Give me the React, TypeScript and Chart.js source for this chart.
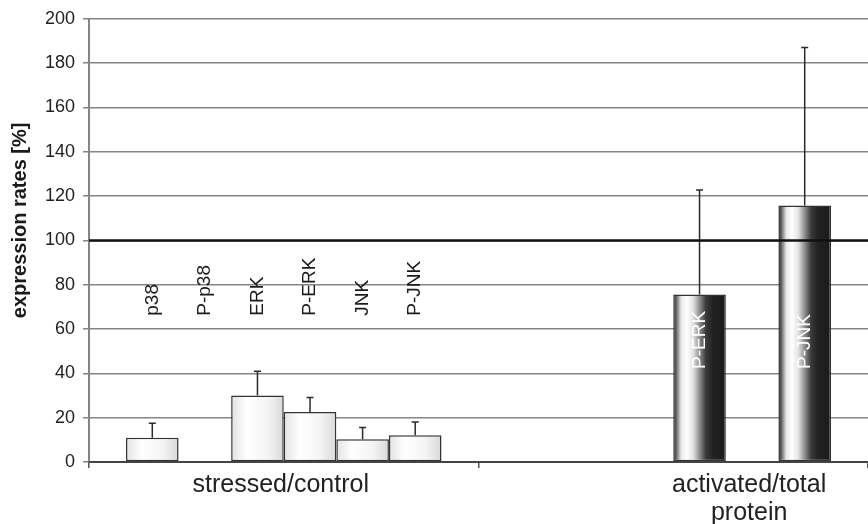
import React, { useEffect, useRef } from "react";
import { Chart, registerables } from "chart.js";

Chart.register(...registerables);

const FONT = '"Liberation Sans", Arial, Helvetica, sans-serif';

// Category groups along the x axis (multi-line labels as arrays)
const categories = [["stressed/control"], ["activated/total", "protein"]];

// Protein names, one bar series each
const seriesNames = ["p38", "P-p38", "ERK", "P-ERK", "JNK", "P-JNK"];

// Mean expression rates [%] per category
const p38Values = [10.9, null];
const pP38Values = [null, null];
const erkValues = [30.0, null];
const pErkValues = [22.6, 75.6];
const jnkValues = [10.3, null];
const pJnkValues = [12.1, 115.8];

// Upper error (SD) per category
const p38Errors = [6.6, null];
const pP38Errors = [null, null];
const erkErrors = [10.9, null];
const pErkErrors = [6.5, 47.1];
const jnkErrors = [5.3, null];
const pJnkErrors = [5.9, 71.3];

// Y axis range
const yMin = 0;
const yMax = 200;
const yStep = 20;

// Control level drawn as a heavy horizontal rule
const controlLevel = 100;

const yTitle = "expression rates [%]";

const seriesValues = [p38Values, pP38Values, erkValues, pErkValues, jnkValues, pJnkValues];
const seriesErrors = [p38Errors, pP38Errors, erkErrors, pErkErrors, jnkErrors, pJnkErrors];

// Fill shading: flat light bars for the ratio group, cylinder shading for the activation group
const lightStops: [number, string][] = [
  [0, "#e2e2e2"],
  [0.3, "#ffffff"],
  [0.7, "#f4f4f4"],
  [1, "#d8d8d8"],
];
const darkStops: [number, string][] = [
  [0, "#2e2e2e"],
  [0.05, "#5a5a5a"],
  [0.15, "#e8e8e8"],
  [0.26, "#ffffff"],
  [0.38, "#e2e2e2"],
  [0.5, "#8e8e8e"],
  [0.62, "#3a3a3a"],
  [0.75, "#222222"],
  [1, "#1a1a1a"],
];

// Where the rotated protein names start, per category (value units) and their colour
const nameLevel = [66, 42];
const nameColor = ["#1a1a1a", "#ffffff"];

const decorPlugin = {
  id: "decor",
  beforeDatasetsDraw(chart: any) {
    const ctx = chart.ctx;
    chart.data.datasets.forEach((_ds: any, di: number) => {
      const meta = chart.getDatasetMeta(di);
      meta.data.forEach((el: any, i: number) => {
        const x = el.x;
        const w = el.width;
        if (!isFinite(x) || !isFinite(w)) return;
        const g = ctx.createLinearGradient(x - w / 2, 0, x + w / 2, 0);
        (i === 0 ? lightStops : darkStops).forEach(([o, c]) => g.addColorStop(o, c));
        el.options.backgroundColor = g;
      });
    });
  },
  afterDatasetsDraw(chart: any) {
    const { ctx, chartArea } = chart;
    const yScale = chart.scales.y;
    ctx.save();

    // error bars (upper only)
    ctx.strokeStyle = "#2a2a2a";
    ctx.lineWidth = 1.5;
    chart.data.datasets.forEach((ds: any, di: number) => {
      const meta = chart.getDatasetMeta(di);
      meta.data.forEach((el: any, i: number) => {
        const v = ds.data[i];
        const e = ds.errors[i];
        if (v == null || e == null) return;
        const px = el.x;
        const y0 = yScale.getPixelForValue(v);
        const y1 = yScale.getPixelForValue(v + e);
        ctx.beginPath();
        ctx.moveTo(px, y0);
        ctx.lineTo(px, y1);
        ctx.moveTo(px - 3.5, y1);
        ctx.lineTo(px + 3.5, y1);
        ctx.stroke();
      });
    });

    // control level rule
    const yc = yScale.getPixelForValue(controlLevel);
    ctx.strokeStyle = "#111111";
    ctx.lineWidth = 2.5;
    ctx.beginPath();
    ctx.moveTo(chartArea.left, yc);
    ctx.lineTo(chartArea.right, yc);
    ctx.stroke();

    // x axis baseline on top of the bars
    const yb = yScale.getPixelForValue(0);
    ctx.strokeStyle = "#444444";
    ctx.lineWidth = 2;
    ctx.beginPath();
    ctx.moveTo(chartArea.left, yb);
    ctx.lineTo(chartArea.right, yb);
    ctx.stroke();

    // rotated protein names
    ctx.font = `19px ${FONT}`;
    ctx.textAlign = "left";
    ctx.textBaseline = "middle";
    chart.data.datasets.forEach((ds: any, di: number) => {
      const meta = chart.getDatasetMeta(di);
      meta.data.forEach((el: any, i: number) => {
        const v = ds.data[i];
        if (i !== 0 && v == null) return;
        const py = yScale.getPixelForValue(nameLevel[i]);
        ctx.save();
        ctx.translate(el.x, py);
        ctx.rotate(-Math.PI / 2);
        ctx.fillStyle = nameColor[i];
        ctx.fillText(ds.label, 0, 0);
        ctx.restore();
      });
    });

    // category labels centred under the bars present in each group
    ctx.font = `25px ${FONT}`;
    ctx.fillStyle = "#222222";
    ctx.textAlign = "center";
    chart.data.labels.forEach((lab: any, ci: number) => {
      let lo = Infinity;
      let hi = -Infinity;
      chart.data.datasets.forEach((ds: any, di: number) => {
        if (ds.data[ci] == null) return;
        const el = chart.getDatasetMeta(di).data[ci];
        lo = Math.min(lo, el.x - el.width / 2);
        hi = Math.max(hi, el.x + el.width / 2);
      });
      const cx = isFinite(lo) ? (lo + hi) / 2 - 3 : chart.scales.x.getPixelForValue(ci);
      const lines = Array.isArray(lab) ? lab : [lab];
      lines.forEach((t: string, k: number) => {
        ctx.fillText(t, cx, chartArea.bottom + 23 + k * 28);
      });
    });

    // y axis title
    ctx.font = `bold 20px ${FONT}`;
    ctx.fillStyle = "#1a1a1a";
    ctx.save();
    ctx.translate(chartArea.left - 69, (chartArea.top + chartArea.bottom) / 2 - 20);
    ctx.rotate(-Math.PI / 2);
    ctx.textAlign = "center";
    ctx.fillText(yTitle, 0, 0);
    ctx.restore();

    ctx.restore();
  },
};

export default function App() {
  const canvasRef = useRef<HTMLCanvasElement | null>(null);

  useEffect(() => {
    const canvas = canvasRef.current;
    if (!canvas) return;
    const chart = new Chart(canvas, {
      type: "bar",
      data: {
        labels: categories as any,
        datasets: seriesNames.map((name, k) => ({
          label: name,
          data: seriesValues[k],
          errors: seriesErrors[k],
          backgroundColor: () => "#ffffff",
          borderColor: "#333333",
          borderWidth: 1.5,
          borderSkipped: false,
          categoryPercentage: 0.81,
          barPercentage: 1,
        })) as any,
      },
      options: {
        responsive: false,
        animation: false,
        layout: { padding: { top: 17, right: 0, left: 0, bottom: 0 } },
        plugins: {
          legend: { display: false },
          tooltip: { enabled: false },
        },
        scales: {
          x: {
            grid: {
              display: true,
              drawOnChartArea: false,
              drawTicks: true,
              tickLength: 6,
              color: "#555555",
              lineWidth: 1.5,
            },
            border: { color: "#444444", width: 2 },
            ticks: { display: false },
            afterFit: (s: any) => {
              s.height = 62;
            },
          },
          y: {
            min: yMin,
            max: yMax,
            ticks: {
              stepSize: yStep,
              font: { size: 18, family: FONT },
              color: "#222222",
              padding: 8,
            },
            grid: { color: "#858585", lineWidth: 1.5, tickLength: 6 },
            border: { color: "#858585", width: 2 },
            afterFit: (s: any) => {
              s.width = 89;
            },
          },
        },
      } as any,
      plugins: [decorPlugin],
    });
    return () => chart.destroy();
  }, []);

  return (
    <div
      style={{
        position: "fixed",
        left: 0,
        top: 0,
        width: 868,
        height: 524,
        background: "#ffffff",
      }}
    >
      <canvas ref={canvasRef} width={868} height={524} style={{ display: "block" }} />
    </div>
  );
}
